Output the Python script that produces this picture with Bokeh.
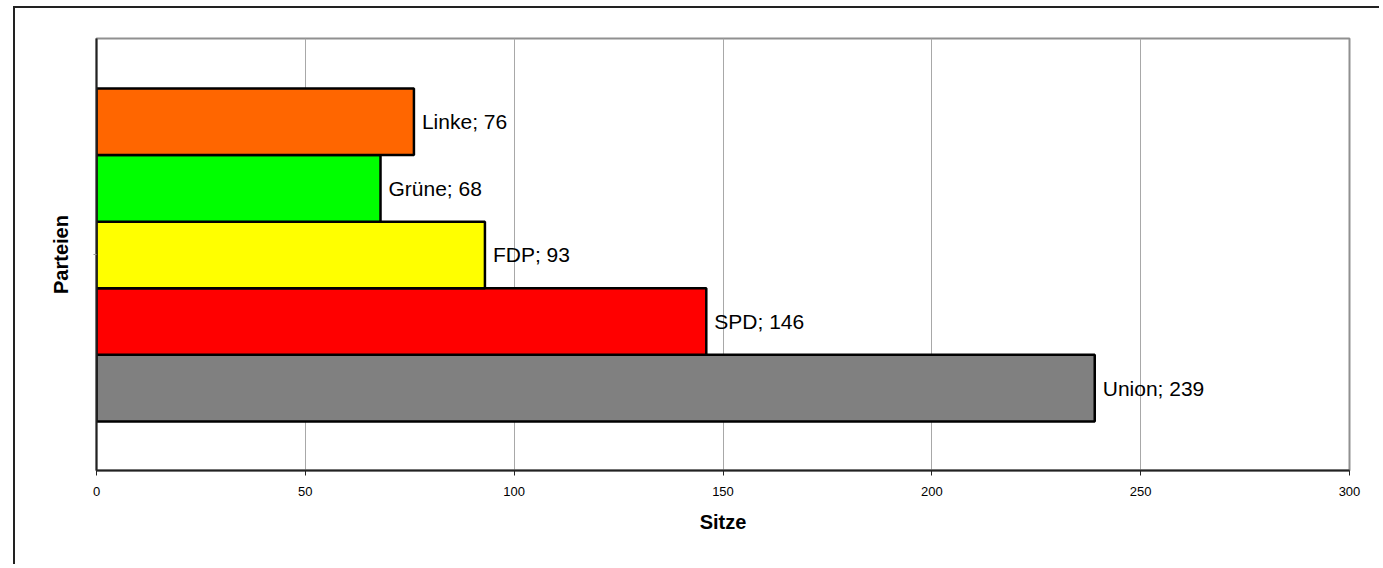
from bokeh.plotting import figure
from bokeh.models import Range1d, FixedTicker, ColumnDataSource, LabelSet
from bokeh.core.properties import value
from bokeh.embed import file_html
from bokeh.resources import INLINE

parties = ["Union", "SPD", "FDP", "Grüne", "Linke"]
seats = [239, 146, 93, 68, 76]
colors = ["#808080", "#FF0000", "#FFFF00", "#00FF00", "#FF6600"]
x_ticks = [0, 50, 100, 150, 200, 250, 300]

pos = list(range(len(parties)))
labels = [f"{p}; {s}" for p, s in zip(parties, seats)]
src = ColumnDataSource(dict(y=pos, right=seats, color=colors, label=labels))

p = figure(width=1366, height=558, output_backend="svg", toolbar_location=None,
           x_range=Range1d(0, 300), y_range=Range1d(-1.236, 5.25),
           min_border_left=81, min_border_right=32, min_border_top=30, min_border_bottom=96)
p.styles = {"border-left": "2px solid #222", "border-top": "2px solid #222",
            "margin-left": "13px", "margin-top": "6px"}

p.hbar(y="y", left=0, right="right", height=1.0, fill_color="color",
       line_color="black", line_width=2.5, source=src)

p.add_layout(LabelSet(x="right", y="y", text="label", source=src, x_offset=8,
                      text_baseline="middle", text_font=value("Liberation Sans"),
                      text_font_size=value("21px"), text_color="black"))

p.outline_line_color = "#909090"
p.outline_line_width = 2

p.xgrid.ticker = FixedTicker(ticks=x_ticks)
p.xgrid.grid_line_color = "#a8a8a8"
p.xgrid.grid_line_width = 1
p.ygrid.grid_line_color = None

xa = p.xaxis[0]
xa.ticker = FixedTicker(ticks=x_ticks)
xa.axis_line_color = "#222222"
xa.axis_line_width = 2
xa.major_tick_line_color = "#222222"
xa.major_tick_out = 5
xa.major_tick_in = 0
xa.minor_tick_line_color = None
xa.major_label_text_font = "Liberation Sans"
xa.major_label_text_font_size = "13px"
xa.major_label_text_color = "black"
xa.major_label_standoff = 11
xa.axis_label = "Sitze"
xa.axis_label_text_font = "Liberation Sans"
xa.axis_label_text_font_style = "bold"
xa.axis_label_text_font_size = "20px"
xa.axis_label_text_color = "black"
xa.axis_label_standoff = 12

ya = p.yaxis[0]
ya.ticker = FixedTicker(ticks=[2])
ya.major_label_text_font_size = "0px"
ya.major_label_text_color = None
ya.axis_line_color = "#222222"
ya.axis_line_width = 2
ya.major_tick_line_color = "#999999"
ya.major_tick_out = 3
ya.major_tick_in = 0
ya.minor_tick_line_color = None
ya.axis_label = "Parteien"
ya.axis_label_text_font = "Liberation Sans"
ya.axis_label_text_font_style = "bold"
ya.axis_label_text_font_size = "20px"
ya.axis_label_text_color = "black"
ya.axis_label_standoff = 22

open("out.html", "w").write(file_html(p, INLINE))
